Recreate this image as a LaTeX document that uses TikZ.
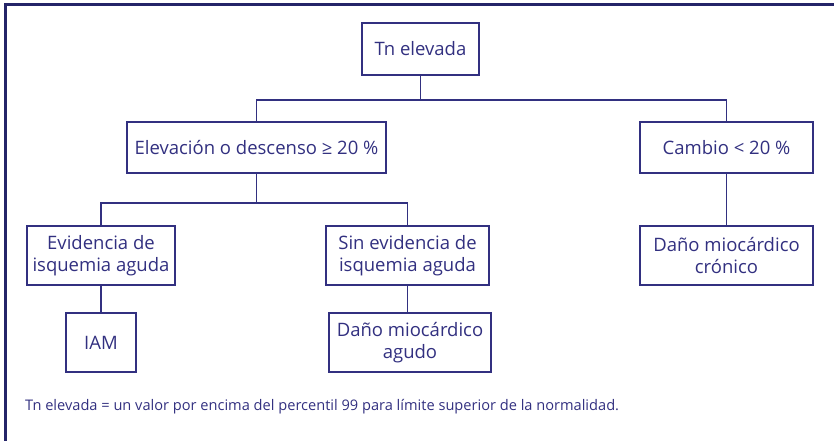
\documentclass[tikz,border=0pt]{standalone}
\usepackage{fontspec}
\setmainfont{Open Sans}
\definecolor{ink}{RGB}{50,48,128}
\definecolor{frame}{RGB}{36,36,104}
\tikzset{
  box/.style={draw=ink, line width=1.4pt, text=ink, inner sep=0pt, align=center, font=\fontsize{18.5}{21.5}\selectfont},
  link/.style={draw=ink, line width=1.4pt}
}
\begin{document}
\begin{tikzpicture}[x=1pt,y=-1pt]
\useasboundingbox (0,0) rectangle (834,441);
\draw[frame, line width=3pt] (5.5,4.5) rectangle (850,460);
\node[box, minimum width=117pt, minimum height=52pt] (tn) at (420.5,49) {Tn elevada};
\node[box, minimum width=259pt, minimum height=51pt] (elev) at (256.5,147.5) {Elevación o descenso ≥ 20 \%};
\node[box, minimum width=173pt, minimum height=51pt] (cambio) at (726.5,147.5) {Cambio < 20 \%};
\node[box, minimum width=148pt, minimum height=59pt] (evid) at (101,255.5) {Evidencia de\\isquemia aguda};
\node[box, minimum width=163pt, minimum height=59pt] (sin) at (407.5,255.5) {Sin evidencia de\\isquemia aguda};
\node[box, minimum width=173pt, minimum height=59pt] (cron) at (726.5,255.5) {Daño miocárdico\\crónico};
\node[box, minimum width=70pt, minimum height=59pt] (iam) at (101,342.5) {IAM};
\node[box, minimum width=162pt, minimum height=59pt] (agudo) at (410,342.5) {Daño miocárdico\\agudo};
\coordinate (j1) at (420.5,100);
\coordinate (j2) at (256.5,203);
\draw[link] (tn.south) -- (j1);
\draw[link] (elev.north) |- (j1) -| (cambio.north);
\draw[link] (elev.south) -- (j2);
\draw[link] (evid.north) |- (j2) -| (sin.north);
\draw[link] (evid.south) -- (iam.north);
\draw[link] (sin.south) -- (sin.south |- agudo.north);
\draw[link] (cambio.south) -- (cron.north);
\node[anchor=base west, inner sep=0pt, text=ink, font=\fontsize{14.6}{17}\selectfont] (note) at (25,410) {Tn elevada = un valor por encima del percentil 99 para límite superior de la normalidad.};
\end{tikzpicture}
\end{document}
